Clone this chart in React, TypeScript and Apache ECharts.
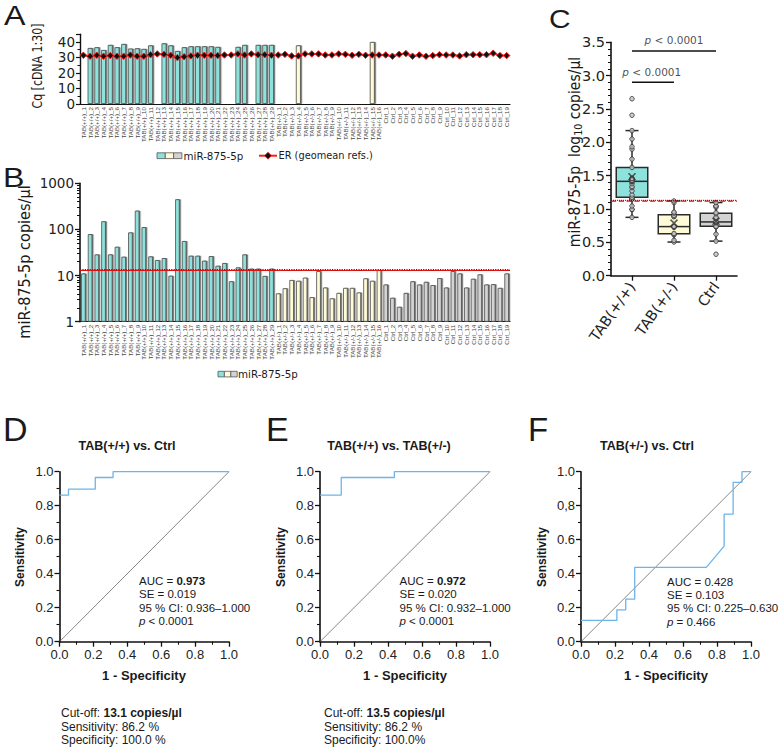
import React, { useEffect, useRef } from "react";
import * as echarts from "echarts";

// ---- sample names ----
const tabHomLabels = Array.from({ length: 29 }, (_, i) => `TAB(+/+)_${i + 1}`);
const tabHetLabels = Array.from({ length: 16 }, (_, i) => `TAB(+/-)_${i + 1}`);
const ctrlLabels = Array.from({ length: 19 }, (_, i) => `Ctrl_${i + 1}`);
const sampleLabels = [...tabHomLabels, ...tabHetLabels, ...ctrlLabels];

// ---- A: Cq of miR-875-5p (null = not detected) ----
const cqTabHom = [null, 36.1, 36.6, 34.8, 38.1, 36.6, 38.7, 35.7, 35.9, 35.5, 37.8, null, 39.1, 37.8, 34.2, 36.6, 37.2, 37.2, 37.2, 37.2, 36.8, null, null, 36.8, 38.1, null, 38.1, 38.1, 38.1];
const cqTabHet = [null, null, null, 37.8, null, null, null, null, null, null, null, null, null, null, 40.0, null];
const cqCtrl = [null, null, null, null, null, null, null, null, null, null, null, null, null, null, null, null, null, null, null];

// ---- A: endogenous reference (geomean of reference genes) ----
const erTabHom = [31.4, 30.8, 31.4, 30.8, 31.2, 30.8, 30.8, 31.6, 30.8, 30.8, 31.8, 32.3, 32.0, 31.4, 29.9, 30.5, 31.0, 31.4, 31.4, 31.4, 31.2, 31.6, 31.6, 32.3, 31.6, 32.3, 31.8, 31.8, 31.4];
const erTabHet = [31.6, 32.0, 31.0, 31.0, 32.3, 32.3, 32.3, 31.6, 31.6, 32.3, 32.0, 31.4, 32.0, 31.4, 31.6, 31.6];
const erCtrl = [31.6, 30.8, 32.0, 32.5, 30.8, 31.6, 30.8, 31.2, 31.8, 31.6, 31.6, 31.0, 31.8, 31.8, 31.8, 31.8, 32.7, 31.2, 31.2];

// ---- B: miR-875-5p copies/µl ----
const copiesTabHom = [11.1, 79, 28.7, 150, 28.7, 42, 25.6, 86, 255, 112, 26, 21.7, 23.9, 9.9, 450, 56, 26.9, 26.9, 21, 26.4, 16.3, 18.7, 7.5, 15, 28.7, 14.1, 14.1, 9.8, 14.1];
const copiesTabHet = [4.1, 5.3, 8.0, 7.7, 9.0, 3.4, 12.5, 5.5, 3.2, 4.2, 5.4, 5.4, 4.3, 8.7, 7.7, 13.2];
const copiesCtrl = [6.4, 3.3, 2.1, 4.2, 7.5, 6.4, 7.3, 6.2, 8.8, 5.5, 12.5, 11.1, 5.5, 8.5, 10.6, 6.4, 6.5, 5.4, 11.1];

// cut-off values (copies/µl)
const cutOffHomCtrl = 13.1;
const cutOffHomHet = 13.5;

// ---- C: groups ----
const groupNames = ["TAB(+/+)", "TAB(+/-)", "Ctrl"];
const groupColors = ["#8de2dc", "#fffbd6", "#d3d3d3"];

// ---- D–F: ROC curves [1 - specificity, sensitivity] ----
const rocHomVsCtrl = [[0, 0.862], [0.053, 0.862], [0.053, 0.897], [0.211, 0.897], [0.211, 0.966], [0.316, 0.966], [0.316, 1], [1, 1]];
const rocHomVsHet = [[0, 0.862], [0.125, 0.862], [0.125, 0.966], [0.4375, 0.966], [0.4375, 1], [1, 1]];
const rocHetVsCtrl = [[0, 0.125], [0.211, 0.125], [0.211, 0.1875], [0.263, 0.1875], [0.263, 0.25], [0.316, 0.25], [0.316, 0.4375], [0.737, 0.4375], [0.842, 0.5625], [0.842, 0.75], [0.895, 0.75], [0.895, 0.9375], [0.947, 0.9375], [0.947, 1], [1, 1]];
const rocTickLabels = ["0.0", "0.2", "0.4", "0.6", "0.8", "1.0"];
const rocTickLabelsF = ["0.0", "0.2", "0.4", "0.6", "0,8", "1.0"];
const cqTicks = [0, 10, 20, 30, 40];

const SANS = '"Liberation Sans", Arial, sans-serif';
const WIDE = '"DejaVu Sans", sans-serif';
const INK = "#1a1a1a";

function boxStats(values: number[]) {
  const v = values.map((x) => Math.log10(x)).sort((a, b) => a - b);
  const q = (p: number) => {
    const idx = (v.length - 1) * p;
    const l = Math.floor(idx);
    const h = Math.ceil(idx);
    return v[l] + (v[h] - v[l]) * (idx - l);
  };
  const q1 = q(0.25), med = q(0.5), q3 = q(0.75);
  const iqr = q3 - q1;
  const inside = v.filter((x) => x >= q1 - 1.5 * iqr && x <= q3 + 1.5 * iqr);
  return { lo: inside[0], q1, med, q3, hi: inside[inside.length - 1], mean: v.reduce((a, b) => a + b, 0) / v.length, logs: v };
}

function txt(x: number, y: number, text: string, o: any = {}) {
  const size = o.size || 12;
  const family = o.family || SANS;
  const base = { fontSize: size, fontFamily: family, fill: INK };
  return {
    type: "text",
    x,
    y,
    rotation: o.rot || 0,
    scaleX: o.sx || 1,
    scaleY: o.sy || 1,
    silent: true,
    z: 100,
    style: {
      text,
      fill: INK,
      fontSize: size,
      fontFamily: family,
      fontWeight: o.weight || "normal",
      fontStyle: o.italic ? "italic" : "normal",
      align: o.align || "left",
      verticalAlign: "middle",
      textAlign: o.align || "left",
      textVerticalAlign: "middle",
      rich: {
        n: { ...base },
        b: { ...base, fontWeight: "bold" },
        i: { ...base, fontStyle: "italic" },
        ...(o.rich || {}),
      },
    },
  };
}

function rocAxes(grid: number, labels: string[]) {
  const common = {
    gridIndex: grid,
    type: "value",
    min: 0,
    max: 1,
    interval: 0.2,
    axisLine: { show: true, lineStyle: { color: "#111", width: 1.6 } },
    axisTick: { show: true, length: 5, lineStyle: { color: "#111", width: 1.3 } },
    minorTick: { show: true, splitNumber: 2, length: 3, lineStyle: { color: "#111", width: 1.1 } },
    splitLine: { show: false },
    axisLabel: {
      fontSize: 13,
      fontFamily: SANS,
      color: "#222",
      margin: 6,
      formatter: (v: number) => labels[Math.round(v / 0.2)] ?? "",
    },
  };
  return { x: { ...common, axisLabel: { ...common.axisLabel, formatter: (v: number) => rocTickLabels[Math.round(v / 0.2)] ?? "" } }, y: common };
}

function buildOption() {
  const cqItems = [
    ...cqTabHom.map((v) => ({ value: v, itemStyle: { color: groupColors[0] } })),
    ...cqTabHet.map((v) => ({ value: v, itemStyle: { color: groupColors[1] } })),
    ...cqCtrl.map((v) => ({ value: v, itemStyle: { color: groupColors[2] } })),
  ];
  const copyItems = [
    ...copiesTabHom.map((v) => ({ value: v, itemStyle: { color: groupColors[0] } })),
    ...copiesTabHet.map((v) => ({ value: v, itemStyle: { color: groupColors[1] } })),
    ...copiesCtrl.map((v) => ({ value: v, itemStyle: { color: groupColors[2] } })),
  ];
  const barStyle = {
    borderColor: "#4d4d4d",
    borderWidth: 0.8,
    shadowColor: "rgba(70,70,70,0.75)",
    shadowOffsetX: 1.2,
    shadowOffsetY: 0,
    shadowBlur: 0.5,
  };

  const stats = [boxStats(copiesTabHom), boxStats(copiesTabHet), boxStats(copiesCtrl)];
  const boxData = stats.map((s, i) => [i, s.lo, s.q1, s.med, s.q3, s.hi]);
  const pointData: number[][] = [];
  stats.forEach((s, i) => s.logs.forEach((v) => pointData.push([i, v])));
  const meanData = stats.map((s, i) => [i, s.mean]);

  const catAxisCommon = {
    type: "category",
    data: sampleLabels,
    axisLine: { lineStyle: { color: "#111", width: 1.2 } },
    axisTick: { show: false },
    axisLabel: { rotate: 90, interval: 0, fontSize: 6.2, fontFamily: SANS, color: "#444", margin: 3 },
  };

  const rD = rocAxes(3, rocTickLabels);
  const rE = rocAxes(4, rocTickLabels);
  const rF = rocAxes(5, rocTickLabelsF);

  const minorLogTicks = [2, 3, 4, 5, 6, 7, 8, 9, 20, 30, 40, 50, 60, 70, 80, 90, 200, 300, 400, 500, 600, 700, 800, 900];

  const rocLine = (xi: number, data: number[][]) => ({
    type: "line",
    xAxisIndex: xi,
    yAxisIndex: xi,
    data,
    symbol: "none",
    clip: false,
    lineStyle: { color: "#6db4e8", width: 1.3 },
    z: 4,
  });
  const diag = (xi: number) => ({
    type: "line",
    xAxisIndex: xi,
    yAxisIndex: xi,
    data: [[0, 0], [1, 1]],
    symbol: "none",
    lineStyle: { color: "#555", width: 0.7 },
    z: 3,
  });

  const sigRich = {
    i: { fontSize: 10.5, fontFamily: WIDE, fontStyle: "italic", color: INK },
    n: { fontSize: 10.5, fontFamily: WIDE, color: INK },
  };

  const statSize = 11.5;

  const graphic: any[] = [
    // panel letters
    txt(4, 15, "A", { size: 28, sx: 1.15 }),
    txt(3, 177, "B", { size: 28, sx: 1.15 }),
    txt(549, 19, "C", { size: 26, sx: 1.15 }),
    txt(3, 429, "D", { size: 34 }),
    txt(266, 429, "E", { size: 34 }),
    txt(528, 429.5, "F", { size: 33 }),
    // axis titles of A–C
    txt(37.5, 66, "Cq [cDNA 1:30]", { size: 11, sy: 1.2, rot: Math.PI / 2, align: "center", family: WIDE }),
    txt(25, 262, "miR-875-5p copies/µl", { size: 14.5, sy: 1.1, rot: Math.PI / 2, align: "center", family: WIDE }),
    txt(574, 152, "{a|miR-875-5p  log}{s|10}{a| copies/µl}", {
      rot: Math.PI / 2,
      sy: 1.1,
      align: "center",
      rich: {
        a: { fontSize: 14, fontFamily: WIDE, fill: INK, lineHeight: 18 },
        s: { fontSize: 9.5, fontFamily: WIDE, fill: INK, lineHeight: 10, verticalAlign: "bottom" },
      },
    }),
    // ROC titles
    txt(127, 446, "TAB(+/+) vs. Ctrl", { size: 12.5, weight: "bold", align: "center" }),
    txt(389, 446, "TAB(+/+) vs. TAB(+/-)", { size: 12.5, weight: "bold", align: "center" }),
    txt(647, 446, "TAB(+/-) vs. Ctrl", { size: 12.5, weight: "bold", align: "center" }),
    // ROC axis titles
    txt(20, 557, "Sensitivity", { size: 12, weight: "bold", rot: Math.PI / 2, align: "center" }),
    txt(281, 557, "Sensitivity", { size: 12, weight: "bold", rot: Math.PI / 2, align: "center" }),
    txt(542, 557, "Sensitivity", { size: 12, weight: "bold", rot: Math.PI / 2, align: "center" }),
    txt(144, 675, "1 - Specificity", { size: 13, weight: "bold", align: "center" }),
    txt(405, 675, "1 - Specificity", { size: 13, weight: "bold", align: "center" }),
    txt(666, 675, "1 - Specificity", { size: 13, weight: "bold", align: "center" }),
    // ROC statistics D
    txt(139, 581, "{n|AUC = }{b|0.973}", { size: statSize }),
    txt(139, 594.3, "SE = 0.019", { size: statSize }),
    txt(139, 607.6, "95 % CI: 0.936–1.000", { size: statSize }),
    txt(139, 621, "{i|p}{n| < 0.0001}", { size: statSize }),
    // ROC statistics E
    txt(399.5, 581, "{n|AUC = }{b|0.972}", { size: statSize }),
    txt(399.5, 594.3, "SE = 0.020", { size: statSize }),
    txt(399.5, 607.6, "95 % CI: 0.932–1.000", { size: statSize }),
    txt(399.5, 621, "{i|p}{n| < 0.0001}", { size: statSize }),
    // ROC statistics F
    txt(667, 581.7, "AUC = 0.428", { size: statSize }),
    txt(667, 595, "SE = 0.103", { size: statSize }),
    txt(667, 608.3, "95 % CI: 0.225–0.630", { size: statSize }),
    txt(667, 621.7, "{i|p}{n| = 0.466}", { size: statSize }),
    // cut-off summaries
    txt(61, 713, "{n|Cut-off: }{b|13.1 copies/µl}", { size: 12 }),
    txt(61, 726.7, "Sensitivity: 86.2 %", { size: 12 }),
    txt(61, 740.3, "Specificity: 100.0 %", { size: 12 }),
    txt(324, 713, "{n|Cut-off: }{b|13.5 copies/µl}", { size: 12 }),
    txt(324, 726.7, "Sensitivity: 86.2 %", { size: 12 }),
    txt(324, 740.3, "Specificity: 100.0%", { size: 12 }),
    // legend A
    ...groupColors.map((c, i) => ({
      type: "rect",
      silent: true,
      shape: { x: 157 + i * 8.3, y: 152.8, width: 8.3, height: 5.8 },
      style: { fill: c, stroke: "#555", lineWidth: 0.8 },
    })),
    txt(183.5, 155.7, "miR-875-5p", { size: 10.3, family: WIDE }),
    { type: "line", silent: true, shape: { x1: 259, y1: 155.7, x2: 277, y2: 155.7 }, style: { stroke: "#ff1a1a", lineWidth: 2 } },
    { type: "polygon", silent: true, shape: { points: [[268, 152.2], [271.5, 155.7], [268, 159.2], [264.5, 155.7]] }, style: { fill: "#111", stroke: "#ff1a1a", lineWidth: 0.8 } },
    txt(278.5, 155.7, "ER (geomean refs.)", { size: 9.8, family: WIDE }),
    // legend B
    ...groupColors.map((c, i) => ({
      type: "rect",
      silent: true,
      shape: { x: 218 + i * 6.4, y: 371.3, width: 6.4, height: 5.6 },
      style: { fill: c, stroke: "#555", lineWidth: 0.8 },
    })),
    txt(238, 374, "miR-875-5p", { size: 10.3, family: WIDE }),
  ];

  const gridBase = { containLabel: false, outerBoundsMode: "none" };

  return {
    animation: false,
    backgroundColor: "#ffffff",
    textStyle: { fontFamily: SANS },
    grid: [
      { ...gridBase, left: 80, top: 34.2, width: 430, height: 69.8 },
      { ...gridBase, left: 80, top: 183.3, width: 430, height: 138.4 },
      { ...gridBase, left: 611, top: 42.3, width: 126, height: 233.4 },
      { ...gridBase, left: 59.5, top: 471.7, width: 169.5, height: 170 },
      { ...gridBase, left: 320, top: 471.7, width: 170, height: 170 },
      { ...gridBase, left: 581, top: 471.7, width: 170, height: 170 },
    ],
    xAxis: [
      { ...catAxisCommon, gridIndex: 0 },
      { ...catAxisCommon, gridIndex: 1 },
      {
        gridIndex: 2,
        type: "category",
        data: groupNames,
        axisLine: { lineStyle: { color: "#111", width: 1.6 } },
        axisTick: { show: true, alignWithLabel: true, length: 5, lineStyle: { color: "#111", width: 1.3 } },
        axisLabel: { rotate: 55, interval: 0, fontSize: 14.5, fontFamily: WIDE, color: "#222", margin: 8 },
      },
      { gridIndex: 2, type: "value", min: 0, max: 3, show: false },
      { ...rD.x, gridIndex: 3 },
      { ...rE.x, gridIndex: 4 },
      { ...rF.x, gridIndex: 5 },
    ],
    yAxis: [
      {
        gridIndex: 0,
        type: "value",
        min: 0,
        max: 45,
        interval: 10,
        axisLine: { show: true, lineStyle: { color: "#111", width: 1.4 } },
        axisTick: { show: true, length: 4, lineStyle: { color: "#111", width: 1.2 } },
        minorTick: { show: true, splitNumber: 2, length: 2.5, lineStyle: { color: "#111" } },
        splitLine: { show: false },
        axisLabel: {
          fontSize: 13.5,
          fontFamily: WIDE,
          color: "#222",
          margin: 5,
          formatter: (v: number) => (cqTicks.includes(v) ? String(v) : ""),
        },
      },
      {
        gridIndex: 1,
        type: "log",
        logBase: 10,
        min: 1,
        max: 1000,
        position: "left",
        axisLine: { show: true, lineStyle: { color: "#111", width: 1.6 } },
        axisTick: { show: true, length: 5, lineStyle: { color: "#111", width: 1.3 } },
        splitLine: { show: false },
        axisLabel: { fontSize: 13.5, fontFamily: WIDE, color: "#222", margin: 6, formatter: (v: number) => String(Math.round(v)) },
      },
      {
        gridIndex: 1,
        type: "log",
        logBase: 10,
        min: 1,
        max: 1000,
        position: "left",
        offset: 0,
        axisLine: { show: false },
        axisTick: { show: true, length: 3, customValues: minorLogTicks, lineStyle: { color: "#111", width: 1 } },
        axisLabel: { show: false },
        splitLine: { show: false },
      },
      {
        gridIndex: 2,
        type: "value",
        min: 0,
        max: 3.5,
        interval: 0.5,
        axisLine: { show: true, lineStyle: { color: "#111", width: 1.6 } },
        axisTick: { show: true, length: 5, lineStyle: { color: "#111", width: 1.3 } },
        minorTick: { show: true, splitNumber: 5, length: 3, lineStyle: { color: "#111", width: 1 } },
        splitLine: { show: false },
        axisLabel: { fontSize: 14.5, fontFamily: WIDE, color: "#222", margin: 6, formatter: (v: number) => v.toFixed(1) },
      },
      { ...rD.y, gridIndex: 3 },
      { ...rE.y, gridIndex: 4 },
      { ...rF.y, gridIndex: 5 },
    ],
    series: [
      // A
      { type: "bar", xAxisIndex: 0, yAxisIndex: 0, data: cqItems, barWidth: "74%", itemStyle: barStyle, z: 2 },
      {
        type: "line",
        xAxisIndex: 0,
        yAxisIndex: 0,
        data: [...erTabHom, ...erTabHet, ...erCtrl],
        symbol: "diamond",
        symbolSize: 6.5,
        lineStyle: { color: "#ff1a1a", width: 2 },
        itemStyle: { color: "#111", borderColor: "#ff1a1a", borderWidth: 1 },
        z: 4,
      },
      // B
      {
        type: "bar",
        xAxisIndex: 1,
        yAxisIndex: 1,
        data: copyItems,
        barWidth: "68%",
        itemStyle: barStyle,
        z: 2,
        markLine: {
          silent: true,
          symbol: "none",
          label: { show: false },
          data: [
            { yAxis: cutOffHomHet, lineStyle: { color: "#333", type: "dotted", width: 1.2 } },
            { yAxis: cutOffHomCtrl, lineStyle: { color: "#e01010", type: "solid", width: 1.2 } },
          ],
        },
      },
      // C boxes
      {
        type: "custom",
        xAxisIndex: 2,
        yAxisIndex: 3,
        data: boxData,
        encode: { x: 0, y: [1, 2, 3, 4, 5] },
        z: 2,
        renderItem: (params: any, api: any) => {
          const i = api.value(0);
          const lo = api.coord([i, api.value(1)]);
          const q1 = api.coord([i, api.value(2)]);
          const md = api.coord([i, api.value(3)]);
          const q3 = api.coord([i, api.value(4)]);
          const hi = api.coord([i, api.value(5)]);
          const cx = lo[0];
          const band = api.size([1, 0])[0];
          const bw = band * 0.75;
          const cw = band * 0.31;
          const st = { stroke: "#2b2b2b", lineWidth: 1.5 };
          return {
            type: "group",
            children: [
              { type: "line", shape: { x1: cx, y1: lo[1], x2: cx, y2: hi[1] }, style: st },
              { type: "line", shape: { x1: cx - cw / 2, y1: lo[1], x2: cx + cw / 2, y2: lo[1] }, style: st },
              { type: "line", shape: { x1: cx - cw / 2, y1: hi[1], x2: cx + cw / 2, y2: hi[1] }, style: st },
              { type: "rect", shape: { x: cx - bw / 2, y: q3[1], width: bw, height: q1[1] - q3[1] }, style: { fill: groupColors[i], stroke: "#2b2b2b", lineWidth: 1.5 } },
              { type: "line", shape: { x1: cx - bw / 2, y1: md[1], x2: cx + bw / 2, y2: md[1] }, style: st },
            ],
          };
        },
      },
      // C individual values
      {
        type: "scatter",
        xAxisIndex: 2,
        yAxisIndex: 3,
        data: pointData,
        symbol: "circle",
        symbolSize: 4.5,
        itemStyle: { color: "#c4c4c4", borderColor: "#333", borderWidth: 1 },
        z: 5,
      },
      // C means
      {
        type: "scatter",
        xAxisIndex: 2,
        yAxisIndex: 3,
        data: meanData,
        symbol: "path://M0 0L10 10M10 0L0 10",
        symbolSize: 7,
        itemStyle: { color: "none", borderColor: "#333", borderWidth: 1.6 },
        z: 6,
      },
      // C cut-off lines
      {
        type: "line",
        xAxisIndex: 3,
        yAxisIndex: 3,
        data: [[0, Math.log10(cutOffHomCtrl)], [3, Math.log10(cutOffHomCtrl)]],
        symbol: "none",
        lineStyle: { color: "#e01010", type: "dashed", width: 1.3 },
        z: 7,
      },
      {
        type: "line",
        xAxisIndex: 3,
        yAxisIndex: 3,
        data: [[0, Math.log10(cutOffHomHet)], [3, Math.log10(cutOffHomHet)]],
        symbol: "none",
        lineStyle: { color: "#222", type: "dotted", width: 1 },
        z: 7,
      },
      // C significance brackets
      {
        type: "line",
        xAxisIndex: 3,
        yAxisIndex: 3,
        data: [[0.5, 3.37], [2.5, 3.37]],
        symbol: "none",
        lineStyle: { color: "#111", width: 1.5 },
      },
      {
        type: "line",
        xAxisIndex: 3,
        yAxisIndex: 3,
        data: [[0.5, 2.9], [1.5, 2.9]],
        symbol: "none",
        lineStyle: { color: "#111", width: 1.5 },
      },
      {
        type: "scatter",
        xAxisIndex: 3,
        yAxisIndex: 3,
        data: [[1.5, 3.37], [0.97, 2.9]],
        symbolSize: 0,
        clip: false,
        label: { show: true, position: "top", distance: 5, formatter: "{i|p}{n| < 0.0001}", rich: sigRich },
      },
      // D–F
      diag(4),
      rocLine(4, rocHomVsCtrl),
      diag(5),
      rocLine(5, rocHomVsHet),
      diag(6),
      rocLine(6, rocHetVsCtrl),
    ],
    graphic,
  };
}

export default function App() {
  const ref = useRef<HTMLDivElement>(null);
  useEffect(() => {
    if (!ref.current) return;
    const chart = echarts.init(ref.current, null, { renderer: "svg" });
    chart.setOption(buildOption() as any);
    return () => chart.dispose();
  }, []);
  return (
    <div
      ref={ref}
      style={{ position: "absolute", left: 0, top: 0, width: 782, height: 756, background: "#fff" }}
    />
  );
}
